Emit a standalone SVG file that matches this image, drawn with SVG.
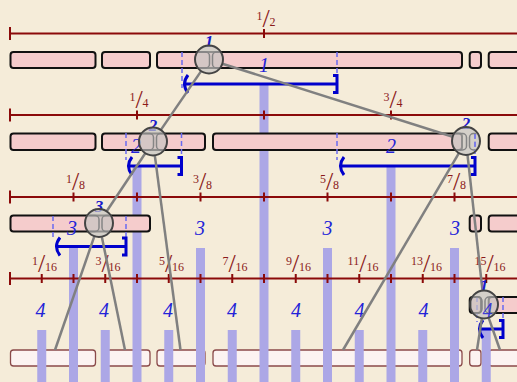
<svg xmlns="http://www.w3.org/2000/svg" width="517" height="382" viewBox="0 0 517 382">
<defs>
<style>
.ax{stroke:#8b0a0a;stroke-width:2;fill:none}
.fr{font-family:"Liberation Serif",serif;font-size:12px;fill:#8b1a1a;text-anchor:middle}
.sl{font-size:26px}
.bar{fill:#aca7e6}
.bx{fill:#f5cccc;stroke:#111;stroke-width:2}
.bb{fill:#fcf3f1;stroke:#8a4a4a;stroke-width:1.3}
.dash{stroke:#6a6af0;stroke-width:1.5;stroke-dasharray:5 3;fill:none}
.br{stroke:#0000cc;stroke-width:3;fill:none}
.lv{font-family:"Liberation Serif",serif;font-style:italic;font-size:20px;fill:#2323d8;text-anchor:middle}
.cl{font-family:"Liberation Serif",serif;font-style:italic;font-weight:bold;font-size:17px;fill:#1a1acc;text-anchor:middle}
.con{stroke:#808080;stroke-width:2.5;fill:none;stroke-linecap:butt}
.lens{fill:#c6c4c2;fill-opacity:0.7;stroke:#444;stroke-width:2}
.in{fill:none;stroke:#858585;stroke-width:1.5}
</style>
<clipPath id="c1"><circle cx="209" cy="59.5" r="13"/></clipPath>
<clipPath id="c2"><circle cx="153" cy="141.5" r="13"/></clipPath>
<clipPath id="c2b"><circle cx="466" cy="141" r="13"/></clipPath>
<clipPath id="c3"><circle cx="99" cy="223" r="13"/></clipPath>
<clipPath id="c4"><circle cx="484" cy="304.5" r="13"/></clipPath>
</defs>
<rect width="517" height="382" fill="#f5ecd9"/>

<g id="bottom-boxes">
<rect class="bb" x="10.5" y="350" width="85" height="16" rx="3"/>
<rect class="bb" x="102" y="350" width="48" height="16" rx="3"/>
<rect class="bb" x="157" y="350" width="48" height="16" rx="3"/>
<rect class="bb" x="213" y="350" width="249" height="16" rx="3"/>
<rect class="bb" x="469.7" y="350" width="11.3" height="16" rx="3"/>
<rect class="bb" x="488.7" y="350" width="45" height="16" rx="3"/>
</g>

<g id="bars">
<rect class="bar" x="259.5" y="84" width="9" height="298"/>
<rect class="bar" x="132.5" y="166" width="9" height="216"/>
<rect class="bar" x="386.5" y="166" width="9" height="216"/>
<rect class="bar" x="69" y="248" width="9" height="134"/>
<rect class="bar" x="196" y="248" width="9" height="134"/>
<rect class="bar" x="323" y="248" width="9" height="134"/>
<rect class="bar" x="450" y="248" width="9" height="134"/>
<rect class="bar" x="37.25" y="330" width="9" height="52"/>
<rect class="bar" x="100.75" y="330" width="9" height="52"/>
<rect class="bar" x="164.25" y="330" width="9" height="52"/>
<rect class="bar" x="227.75" y="330" width="9" height="52"/>
<rect class="bar" x="291.25" y="330" width="9" height="52"/>
<rect class="bar" x="354.75" y="330" width="9" height="52"/>
<rect class="bar" x="418.25" y="330" width="9" height="52"/>
<rect class="bar" x="481.75" y="330" width="9" height="52"/>
</g>

<g id="axis1">
<path class="ax" d="M10,33.5H517M10,27V40M264,29V38"/>
<text class="fr" x="266" y="25.5"><tspan dy="-6">1</tspan><tspan class="sl" dy="7">/</tspan><tspan dy="-1">2</tspan></text>
</g>
<g id="axis2">
<path class="ax" d="M10,115H517M10,108.5V121.5M137,110.5V119.5M264,110.5V119.5M391,110.5V119.5"/>
<text class="fr" x="139" y="107"><tspan dy="-6">1</tspan><tspan class="sl" dy="7">/</tspan><tspan dy="-1">4</tspan></text>
<text class="fr" x="393" y="107"><tspan dy="-6">3</tspan><tspan class="sl" dy="7">/</tspan><tspan dy="-1">4</tspan></text>
</g>
<g id="axis3">
<path class="ax" d="M10,197H517M10,190.5V203.5M73.5,192.5V201.5M137,192.5V201.5M200.5,192.5V201.5M264,192.5V201.5M327.5,192.5V201.5M391,192.5V201.5M454.5,192.5V201.5"/>
<text class="fr" x="75.5" y="189"><tspan dy="-6">1</tspan><tspan class="sl" dy="7">/</tspan><tspan dy="-1">8</tspan></text>
<text class="fr" x="202.5" y="189"><tspan dy="-6">3</tspan><tspan class="sl" dy="7">/</tspan><tspan dy="-1">8</tspan></text>
<text class="fr" x="329.5" y="189"><tspan dy="-6">5</tspan><tspan class="sl" dy="7">/</tspan><tspan dy="-1">8</tspan></text>
<text class="fr" x="456.5" y="189"><tspan dy="-6">7</tspan><tspan class="sl" dy="7">/</tspan><tspan dy="-1">8</tspan></text>
</g>
<g id="axis4">
<path class="ax" d="M10,278.5H517M10,272V285M41.75,274V283M73.5,274V283M105.25,274V283M137,274V283M168.75,274V283M200.5,274V283M232.25,274V283M264,274V283M295.75,274V283M327.5,274V283M359.25,274V283M391,274V283M422.75,274V283M454.5,274V283M486.25,274V283"/>
<text class="fr" x="44.5" y="270.5"><tspan dy="-6">1</tspan><tspan class="sl" dy="7">/</tspan><tspan dy="-1">16</tspan></text>
<text class="fr" x="108" y="270.5"><tspan dy="-6">3</tspan><tspan class="sl" dy="7">/</tspan><tspan dy="-1">16</tspan></text>
<text class="fr" x="171.5" y="270.5"><tspan dy="-6">5</tspan><tspan class="sl" dy="7">/</tspan><tspan dy="-1">16</tspan></text>
<text class="fr" x="235" y="270.5"><tspan dy="-6">7</tspan><tspan class="sl" dy="7">/</tspan><tspan dy="-1">16</tspan></text>
<text class="fr" x="298.5" y="270.5"><tspan dy="-6">9</tspan><tspan class="sl" dy="7">/</tspan><tspan dy="-1">16</tspan></text>
<text class="fr" x="363" y="270.5"><tspan dy="-6">11</tspan><tspan class="sl" dy="7">/</tspan><tspan dy="-1">16</tspan></text>
<text class="fr" x="426.5" y="270.5"><tspan dy="-6">13</tspan><tspan class="sl" dy="7">/</tspan><tspan dy="-1">16</tspan></text>
<text class="fr" x="490" y="270.5"><tspan dy="-6">15</tspan><tspan class="sl" dy="7">/</tspan><tspan dy="-1">16</tspan></text>
</g>

<g id="row1-boxes">
<rect class="bx" x="10.5" y="52" width="85" height="16" rx="3"/>
<rect class="bx" x="102" y="52" width="48" height="16" rx="3"/>
<rect class="bx" x="157" y="52" width="305" height="16" rx="3"/>
<rect class="bx" x="469.7" y="52" width="11.3" height="16" rx="3"/>
<rect class="bx" x="488.7" y="52" width="45" height="16" rx="3"/>
</g>
<g id="row2-boxes">
<rect class="bx" x="10.5" y="133.5" width="85" height="16.5" rx="3"/>
<rect class="bx" x="102" y="133.5" width="103" height="16.5" rx="3"/>
<rect class="bx" x="213" y="133.5" width="249" height="16.5" rx="3"/>
<rect class="bx" x="488.7" y="133.5" width="45" height="16.5" rx="3"/>
</g>
<g id="row3-boxes">
<rect class="bx" x="10.5" y="215.5" width="139.5" height="16" rx="3"/>
<rect class="bx" x="469.7" y="215.5" width="11.3" height="16" rx="3"/>
<rect class="bx" x="488.7" y="215.5" width="45" height="16" rx="3"/>
</g>
<g id="row5-boxes">
<rect class="bx" x="469.7" y="297" width="11.3" height="16" rx="3"/>
<rect class="bx" x="488.7" y="297" width="45" height="16" rx="3"/>
</g>

<g id="level-labels">
<text class="lv" x="264" y="72">1</text>
<text class="lv" x="136" y="153">2</text>
<text class="lv" x="391" y="153">2</text>
<text class="lv" x="72" y="234.5">3</text>
<text class="lv" x="200" y="234.5">3</text>
<text class="lv" x="327.5" y="234.5">3</text>
<text class="lv" x="455" y="234.5">3</text>
<text class="lv" x="40.5" y="317">4</text>
<text class="lv" x="104" y="317">4</text>
<text class="lv" x="168" y="317">4</text>
<text class="lv" x="232" y="317">4</text>
<text class="lv" x="296" y="317">4</text>
<text class="lv" x="359.5" y="317">4</text>
<text class="lv" x="423.5" y="317">4</text>
</g>

<g id="intervals">
<path class="dash" d="M182,52V88M337,52V76"/>
<path class="br" d="M188,75Q181,84 188,93M184,84H337M333,75.5H337V92.5H333"/>
<path class="dash" d="M126,133V160M181.5,133V158"/>
<path class="br" d="M132,157Q125,166 132,175M128,166H181.5M177.5,157.5H181.5V174.5H177.5"/>
<path class="dash" d="M337,133V160M475,133V158"/>
<path class="br" d="M344,157Q337,166 344,175M340,166H475M471,157.5H475V174.5H471"/>
<path class="dash" d="M53,216V240M126,216V238"/>
<path class="br" d="M60,237.5Q53,246.5 60,255.5M56,246.5H126M122,238H126V255H122"/>
<path class="dash" d="M477,297V322M503,297V321"/>
<path class="br" d="M483,320Q476,329 483,338M479,329H503M499,320.5H503V337.5H499"/>
</g>

<g id="connectors">
<path class="con" d="M201.1,71.1L160.9,129.9"/>
<path class="con" d="M222.3,63.7L452.7,136.8"/>
<path class="con" d="M145.3,153.2L106.7,211.3"/>
<path class="con" d="M154.8,155.4L180.5,350"/>
<path class="con" d="M94.4,236.2L55,350"/>
<path class="con" d="M101.8,236.7L125,350"/>
<path class="con" d="M458.9,153.1L343,350"/>
<path class="con" d="M467.5,154.9L482.5,290.6"/>
<path class="con" d="M481.9,318.3L477,350"/>
<path class="con" d="M488.6,317.7L500,350"/>
</g>

<g id="node1">
<text class="cl" x="209" y="47">1</text>
<circle class="lens" cx="209" cy="59.5" r="14"/>
<g clip-path="url(#c1)"><rect class="in" x="180" y="52" width="29.5" height="16" rx="4"/><rect class="in" x="212.5" y="52" width="30" height="16" rx="4"/></g>
</g>
<g id="node2a">
<text class="cl" x="153" y="130.5">2</text>
<circle class="lens" cx="153" cy="141.5" r="14"/>
<g clip-path="url(#c2)"><rect class="in" x="124" y="133.5" width="29.5" height="16.5" rx="4"/><rect class="in" x="156.5" y="133.5" width="30" height="16.5" rx="4"/></g>
</g>
<g id="node2b">
<text class="cl" x="466" y="129">2</text>
<circle class="lens" cx="466" cy="141" r="14"/>
<g clip-path="url(#c2b)"><rect class="in" x="437" y="133.5" width="29.5" height="16.5" rx="4"/><rect class="in" x="469.5" y="133.5" width="30" height="16.5" rx="4"/><path class="dash" d="M475,126V158"/></g>
</g>
<g id="node3">
<text class="cl" x="99" y="212">3</text>
<circle class="lens" cx="99" cy="223" r="14"/>
<g clip-path="url(#c3)"><rect class="in" x="70" y="215.5" width="29" height="16" rx="4"/><rect class="in" x="102" y="215.5" width="30" height="16" rx="4"/></g>
</g>
<g id="node4">
<text class="cl" x="484" y="291">1</text>
<circle class="lens" cx="484" cy="304.5" r="14"/>
<g clip-path="url(#c4)"><rect class="in" x="471" y="297" width="11" height="16" rx="4"/><rect class="in" x="485" y="297" width="30" height="16" rx="4"/></g>
<text class="lv" x="487.5" y="317" fill-opacity="0.85">4</text>
</g>
</svg>
